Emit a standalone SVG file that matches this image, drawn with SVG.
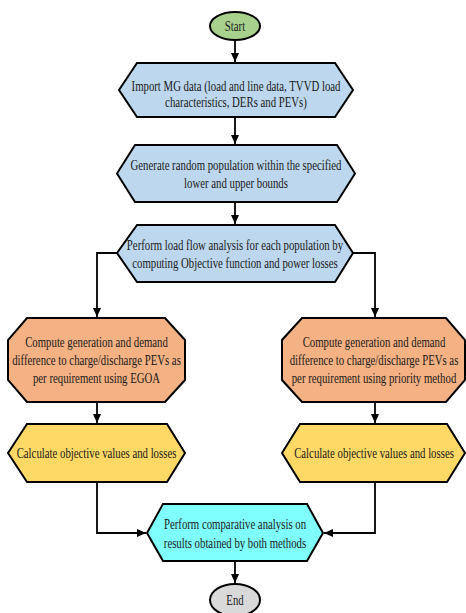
<svg xmlns="http://www.w3.org/2000/svg" width="466" height="613" viewBox="0 0 466 613">
<defs>
<marker id="ah" markerWidth="10" markerHeight="10" refX="9" refY="5" orient="auto" markerUnits="userSpaceOnUse">
<path d="M0,1 L9,5 L0,9 Z" fill="#000"/>
</marker>
<style>
.n{stroke:#000;stroke-width:2;stroke-linejoin:miter}
.blue{fill:#BDD7EE}
.orange{fill:#F4B183}
.yellow{fill:#FFD966}
.cyan{fill:#80FFFF}
.green{fill:#A9D18E}
.gray{fill:#D9D9D9}
.t{font-family:"Liberation Serif","Times New Roman",serif;font-size:14px;fill:#1a1a1a;text-anchor:middle}
.c{fill:none;stroke:#000;stroke-width:1.8}
</style>
</defs>
<rect width="466" height="613" fill="#fff"/>
<g id="connectors">
<path class="c" d="M235,40 V62" marker-end="url(#ah)"/>
<path class="c" d="M235,117 V144" marker-end="url(#ah)"/>
<path class="c" d="M235,202 V224" marker-end="url(#ah)"/>
<path class="c" d="M117,253 H97 V317" marker-end="url(#ah)"/>
<path class="c" d="M353,253 H375 V317" marker-end="url(#ah)"/>
<path class="c" d="M97,402 V423" marker-end="url(#ah)"/>
<path class="c" d="M375,402 V423" marker-end="url(#ah)"/>
<path class="c" d="M97,482 V533 H146" marker-end="url(#ah)"/>
<path class="c" d="M375,482 V533 H324" marker-end="url(#ah)"/>
<path class="c" d="M235,561 V583" marker-end="url(#ah)"/>
</g>
<g id="start">
<ellipse class="n green" cx="235" cy="26" rx="25" ry="14"/>
<text class="t" transform="translate(235,0) scale(0.77,1)"><tspan x="0" y="31">Start</tspan></text>
</g>
<g id="import">
<polygon class="n blue" points="119,90 137,63 335,63 353,90 335,117 137,117"/>
<text class="t" transform="translate(236,0) scale(0.77,1)"><tspan x="0" y="91">Import MG data (load and line data, TVVD load</tspan><tspan x="0" y="107">characteristics, DERs and PEVs)</tspan></text>
</g>
<g id="generate">
<polygon class="n blue" points="117,173.5 135,145 337,145 355,173.5 337,202 135,202"/>
<text class="t" transform="translate(236,0) scale(0.77,1)"><tspan x="0" y="170">Generate random population within the specified</tspan><tspan x="0" y="188">lower and upper bounds</tspan></text>
</g>
<g id="loadflow">
<polygon class="n blue" points="117,253 137,225 335,225 353,253 335,282 137,282"/>
<text class="t" transform="translate(235,0) scale(0.77,1)"><tspan x="0" y="250">Perform load flow analysis for each population by</tspan><tspan x="0" y="268">computing Objective function and power losses</tspan></text>
</g>
<g id="egoa">
<polygon class="n orange" points="27,318 165,318 185,340 185,380 165,402 27,402 8,380 8,340"/>
<text class="t" transform="translate(96.5,0) scale(0.77,1)"><tspan x="0" y="347">Compute generation and demand</tspan><tspan x="0" y="365">difference to charge/discharge PEVs as</tspan><tspan x="0" y="383">per requirement using EGOA</tspan></text>
</g>
<g id="priority">
<polygon class="n orange" points="302,318 446,318 465,340 465,380 446,402 302,402 282,380 282,340"/>
<text class="t" transform="translate(374,0) scale(0.77,1)"><tspan x="0" y="347">Compute generation and demand</tspan><tspan x="0" y="365">difference to charge/discharge PEVs as</tspan><tspan x="0" y="383">per requirement using priority method</tspan></text>
</g>
<g id="calc-left">
<polygon class="n yellow" points="8,453 27,424 167,424 185,453 167,482 27,482"/>
<text class="t" transform="translate(96.5,0) scale(0.77,1)"><tspan x="0" y="458">Calculate objective values and losses</tspan></text>
</g>
<g id="calc-right">
<polygon class="n yellow" points="282,453 300,424 447,424 465,453 447,482 300,482"/>
<text class="t" transform="translate(374,0) scale(0.77,1)"><tspan x="0" y="458">Calculate objective values and losses</tspan></text>
</g>
<g id="compare">
<polygon class="n cyan" points="147,533 163,504 307,504 323,533 307,561 163,561"/>
<text class="t" transform="translate(235,0) scale(0.77,1)"><tspan x="0" y="529">Perform comparative analysis on</tspan><tspan x="0" y="548">results obtained by both methods</tspan></text>
</g>
<g id="end">
<ellipse class="n gray" cx="235" cy="600" rx="25" ry="16"/>
<text class="t" transform="translate(235,0) scale(0.77,1)"><tspan x="0" y="605">End</tspan></text>
</g>
</svg>
